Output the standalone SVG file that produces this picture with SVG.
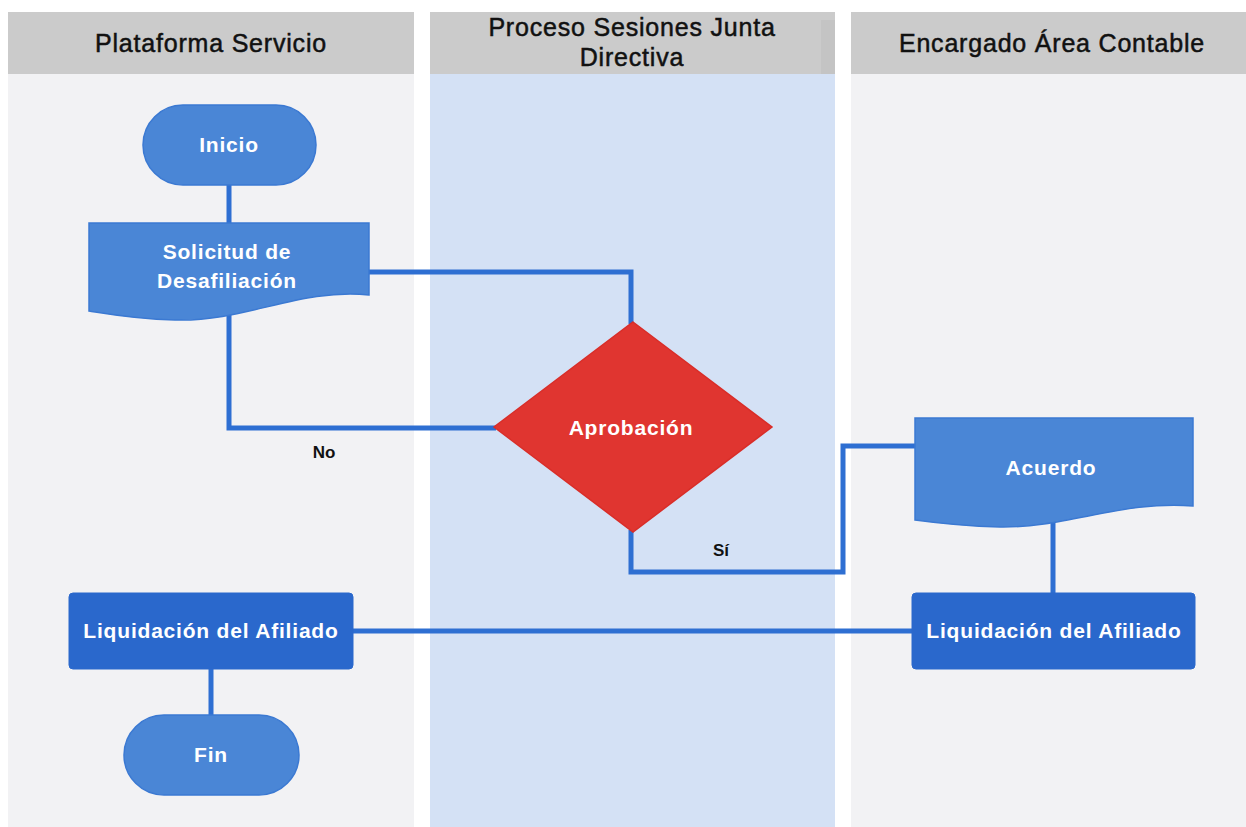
<svg xmlns="http://www.w3.org/2000/svg" width="1246" height="827" viewBox="0 0 1246 827">
  <style>
    .hdr { fill: #cbcbcb; }
    .lane { fill: #f2f2f4; }
    .lane-mid { fill: #d4e1f5; }
    .hdr-text { font-family: "Liberation Sans", Arial, sans-serif; font-size: 25px; fill: #111111; stroke: #111111; stroke-width: 0.5; text-anchor: middle; letter-spacing: 0.8px; }
    .node-text { font-family: "Liberation Sans", Arial, sans-serif; font-size: 21px; font-weight: bold; fill: #ffffff; text-anchor: middle; letter-spacing: 0.8px; }
    .lbl { font-family: "Liberation Sans", Arial, sans-serif; font-size: 17px; font-weight: bold; fill: #111111; text-anchor: middle; }
    .soft { fill: #4a86d6; stroke: #3b79d2; stroke-width: 1.5; }
    .solid { fill: #2a68cc; stroke: #2a68cc; stroke-width: 1; }
    .decision { fill: #e03530; stroke: #d92d28; stroke-width: 1.5; }
    .conn { fill: none; stroke: #2e6fd2; stroke-width: 5; stroke-linejoin: miter; }
  </style>

  <rect width="1246" height="827" fill="#ffffff"/>

  <!-- swimlanes -->
  <g id="lanes">
    <rect class="lane" x="8" y="74" width="406" height="753"/>
    <rect class="lane-mid" x="430" y="74" width="405" height="753"/>
    <rect class="lane" x="851" y="74" width="395" height="753"/>
    <rect class="hdr" x="8" y="12" width="406" height="62"/>
    <rect class="hdr" x="430" y="12" width="405" height="62"/>
    <rect x="821" y="20" width="14" height="54" fill="#c4c4c4"/>
    <rect class="hdr" x="851" y="12" width="395" height="62"/>
    <text class="hdr-text" x="211" y="52">Plataforma Servicio</text>
    <text class="hdr-text" x="632" y="36">Proceso Sesiones Junta</text>
    <text class="hdr-text" x="632" y="66">Directiva</text>
    <text class="hdr-text" x="1052" y="52">Encargado Área Contable</text>
  </g>

  <!-- connectors -->
  <g id="connectors">
    <path class="conn" d="M229,185 V224"/>
    <path class="conn" d="M368,272 H631 V324"/>
    <path class="conn" d="M229,312 V428 H496"/>
    <path class="conn" d="M631,530 V572 H843 V446 H916"/>
    <path class="conn" d="M1053,522 V594"/>
    <path class="conn" d="M352,631 H913"/>
    <path class="conn" d="M211,668 V716"/>
    <text class="lbl" x="324" y="458">No</text>
    <text class="lbl" x="721" y="556">Sí</text>
  </g>

  <g id="inicio">
    <rect class="soft" x="143" y="105" width="173" height="80" rx="40" ry="40"/>
    <text class="node-text" x="229" y="152">Inicio</text>
  </g>

  <g id="solicitud">
    <path class="soft" d="M89,223 H369 V295 C300,288 245,322 175,320 C135,319 108,314 89,311 Z"/>
    <text class="node-text" x="227" y="259">Solicitud de</text>
    <text class="node-text" x="227" y="288">Desafiliación</text>
  </g>

  <g id="aprobacion">
    <polygon class="decision" points="633,322 772,427 633,532 494,427"/>
    <text class="node-text" x="631" y="435">Aprobación</text>
  </g>

  <g id="acuerdo">
    <path class="soft" d="M915,418 H1193 V506 C1125,500 1065,528 1000,527 C962,526 937,523 915,520 Z"/>
    <text class="node-text" x="1051" y="475">Acuerdo</text>
  </g>

  <g id="liquidacion-contable">
    <rect class="solid" x="912" y="593" width="283" height="76" rx="4" ry="4"/>
    <text class="node-text" x="1054" y="638">Liquidación del Afiliado</text>
  </g>

  <g id="liquidacion-plataforma">
    <rect class="solid" x="69" y="593" width="284" height="76" rx="4" ry="4"/>
    <text class="node-text" x="211" y="638">Liquidación del Afiliado</text>
  </g>

  <g id="fin">
    <rect class="soft" x="124" y="715" width="175" height="80" rx="40" ry="40"/>
    <text class="node-text" x="211" y="762">Fin</text>
  </g>
</svg>
